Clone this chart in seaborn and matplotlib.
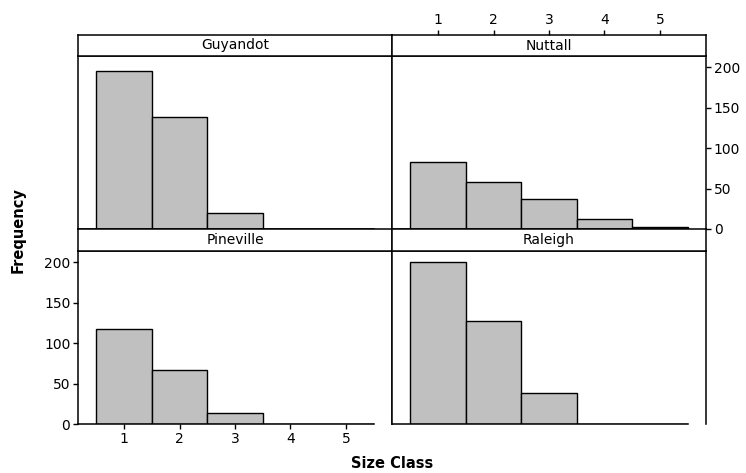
import numpy as np
import pandas as pd
import matplotlib
matplotlib.use("Agg")
import matplotlib.pyplot as plt
import seaborn as sns

# Counts per size class at each site
sites = ["Guyandot", "Nuttall", "Pineville", "Raleigh"]
size_classes = [1, 2, 3, 4, 5]
guyandot = [195, 139, 20, 0, 0]
nuttall = [83, 58, 37, 12, 3]
pineville = [118, 67, 13, 0, 0]
raleigh = [200, 127, 38, 0, 0]
y_ticks = [0, 50, 100, 150, 200]

df = pd.DataFrame({
    "site": np.repeat(sites, len(size_classes)),
    "size_class": size_classes * len(sites),
    "count": guyandot + nuttall + pineville + raleigh,
})

sns.set_style("white")
plt.rcParams["font.family"] = ["DejaVu Sans"]
plt.rcParams["text.color"] = "black"
plt.rcParams["axes.linewidth"] = 1.1
plt.rcParams["xtick.major.size"] = 3.5
plt.rcParams["ytick.major.size"] = 3.5
plt.rcParams["xtick.major.width"] = 1.0
plt.rcParams["ytick.major.width"] = 1.0
plt.rcParams["xtick.color"] = "black"
plt.rcParams["ytick.color"] = "black"

W, H = 746, 473
fig = plt.figure(figsize=(W / 100, H / 100), dpi=100)


def frac(x0, y0, x1, y1):
    return [x0 / W, 1 - y1 / H, (x1 - x0) / W, (y1 - y0) / H]


# (panel box, strip box) in pixel coordinates
cols = [(78, 392), (392, 706)]
rows = [((56, 229), (35, 56)), ((251, 424), (229, 251))]
XLIM = (0.17, 5.83)
YLIM = (0, 214)

for i, site in enumerate(sites):
    r, c = divmod(i, 2)
    x0, x1 = cols[c]
    (py0, py1), (sy0, sy1) = rows[r]
    ax = fig.add_axes(frac(x0, py0, x1, py1))
    sub = df[df["site"] == site]
    sns.histplot(data=sub, x="size_class", weights="count", discrete=True,
                 color="#c0c0c0", edgecolor="black", linewidth=1.0,
                 alpha=1.0, ax=ax)
    ax.set_xlim(*XLIM)
    ax.set_ylim(*YLIM)
    ax.set_xlabel("")
    ax.set_ylabel("")
    for s in ax.spines.values():
        s.set_color("black")
    ax.spines["bottom"].set_bounds(XLIM[0], 5.5)
    ax.set_xticks(size_classes)
    ax.set_yticks(y_ticks)
    ax.tick_params(axis="both", labelsize=10, direction="out", pad=2,
                   labelcolor="black")
    ax.tick_params(axis="x", bottom=(site == "Pineville"),
                   labelbottom=(site == "Pineville"), top=False, labeltop=False)
    if site == "Pineville":
        ax.tick_params(axis="y", left=True, labelleft=True, right=False, labelright=False)
    elif site == "Nuttall":
        ax.tick_params(axis="y", left=False, labelleft=False, right=True, labelright=True)
    else:
        ax.tick_params(axis="y", left=False, labelleft=False, right=False, labelright=False)

    # strip header with the site name
    sax = fig.add_axes(frac(x0, sy0, x1, sy1))
    sax.set_xlim(*XLIM)
    sax.set_ylim(0, 1)
    sax.set_facecolor("white")
    for s in sax.spines.values():
        s.set_visible(True)
        s.set_color("black")
        s.set_linewidth(1.1)
    sax.set_yticks([])
    if site == "Nuttall":
        sax.set_xticks(size_classes)
        sax.tick_params(axis="x", top=True, labeltop=True, bottom=False,
                        labelbottom=False, labelsize=10, direction="out", pad=2,
                        labelcolor="black")
    else:
        sax.set_xticks([])
    sax.text(0.5, 0.5, site, transform=sax.transAxes, ha="center",
             va="center", fontsize=10, color="black")

fig.text(392 / W, 1 - 463 / H, "Size Class", ha="center", va="center",
         fontsize=10.5, fontweight="bold", color="black")
fig.text(18 / W, 1 - 230 / H, "Frequency", ha="center", va="center",
         rotation=90, fontsize=10.5, fontweight="bold", color="black")

fig.savefig("out.png", dpi=100, facecolor="white")
